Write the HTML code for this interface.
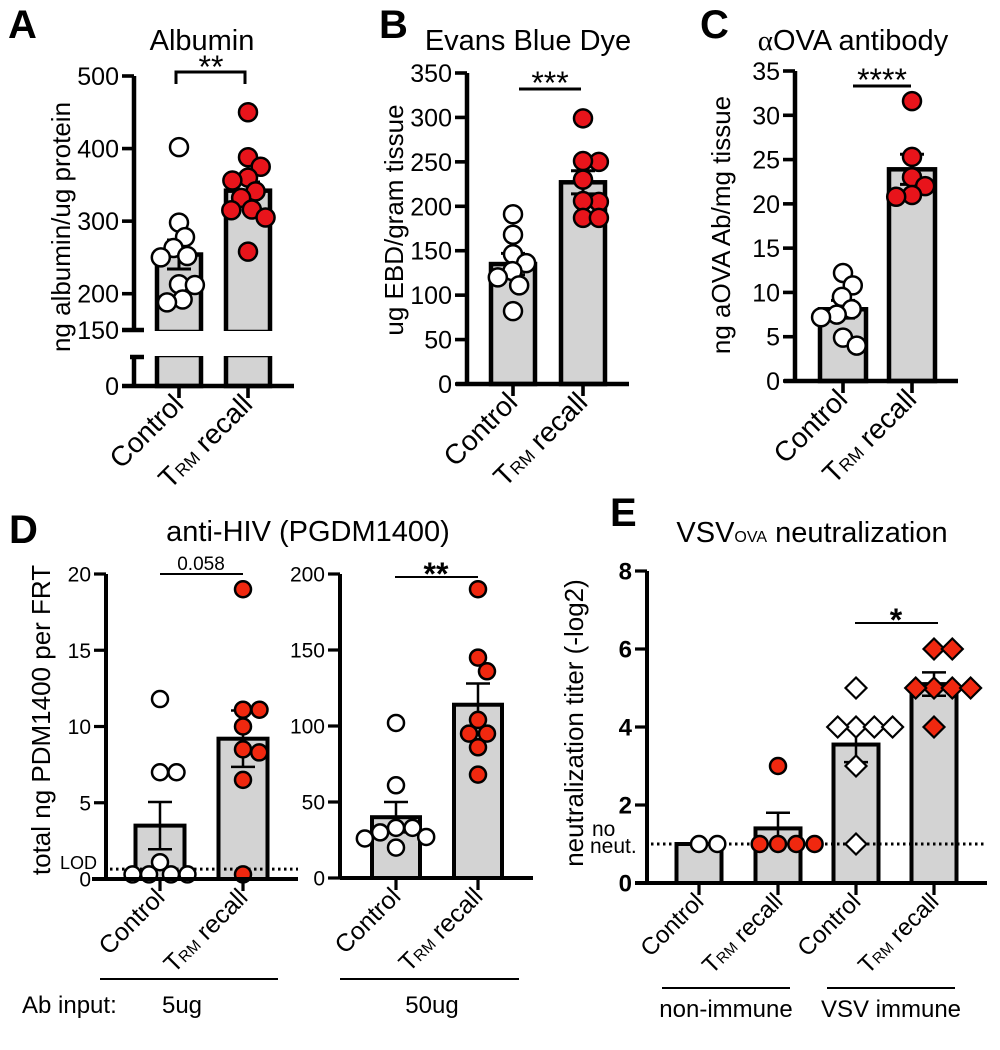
<!DOCTYPE html>
<html><head><meta charset="utf-8"><style>
html,body{margin:0;padding:0;background:#fff;}
svg{display:block;font-family:"Liberation Sans",Arial,sans-serif;}
</style></head><body>
<svg id="fig" width="1000" height="1050" viewBox="0 0 1000 1050" xmlns="http://www.w3.org/2000/svg">
<g font-weight="bold" font-size="40">
<text x="8" y="38">A</text>
<text x="379" y="38">B</text>
<text x="700" y="38">C</text>
<text x="9" y="543">D</text>
<text x="610" y="526">E</text>
</g>
<g font-size="29" text-anchor="middle">
<text x="202" y="50">Albumin</text>
<text x="528" y="50">Evans Blue Dye</text>
<text x="853" y="50"><tspan font-family="'Liberation Serif',serif">α</tspan>OVA antibody</text>
<text x="308" y="541">anti-HIV (PGDM1400)</text>
<text x="812" y="542">VSV<tspan font-size="16">OVA</tspan> neutralization</text>
</g>
<g font-size="26" text-anchor="middle">
<text transform="translate(70,227) rotate(-90)">ng albumin/ug protein</text>
<text transform="translate(403,220) rotate(-90)">ug EBD/gram tissue</text>
<text transform="translate(730,225) rotate(-90)">ng aOVA Ab/mg tissue</text>
<text transform="translate(50,720) rotate(-90)">total ng PDM1400 per FRT</text>
<text transform="translate(583,723) rotate(-90)">neutralization titer (-log2)</text>
</g>
<g text-anchor="middle">
<path d="M176,84 V72 H245 V84" fill="none" stroke="#000" stroke-width="3"/>
<text x="211" y="78" font-size="32">**</text>
<line x1="519" y1="89" x2="581" y2="89" stroke="#000" stroke-width="3"/>
<text x="550" y="94" font-size="32">***</text>
<line x1="853" y1="86" x2="911" y2="86" stroke="#000" stroke-width="3"/>
<text x="882" y="91" font-size="32">****</text>
<line x1="160" y1="574" x2="243" y2="574" stroke="#000" stroke-width="2"/>
<text x="201" y="570" font-size="19">0.058</text>
<line x1="395" y1="577" x2="478" y2="577" stroke="#000" stroke-width="2"/>
<text x="436" y="585" font-size="32" font-weight="bold">**</text>
<line x1="855" y1="623" x2="938" y2="623" stroke="#000" stroke-width="2"/>
<text x="896" y="631" font-size="32" font-weight="bold">*</text>
</g>
<g font-size="24">
<text x="22" y="1013">Ab input:</text>
<line x1="100" y1="979" x2="278" y2="979" stroke="#000" stroke-width="2"/>
<text x="182" y="1013" text-anchor="middle">5ug</text>
<line x1="340" y1="979" x2="519" y2="979" stroke="#000" stroke-width="2"/>
<text x="432" y="1013" text-anchor="middle">50ug</text>
<line x1="662" y1="988" x2="790" y2="988" stroke="#000" stroke-width="2"/>
<text x="726" y="1017" text-anchor="middle">non-immune</text>
<line x1="827" y1="988" x2="955" y2="988" stroke="#000" stroke-width="2"/>
<text x="891" y="1017" text-anchor="middle">VSV immune</text>
</g>
<g>
<text x="97" y="869" font-size="18" text-anchor="end">LOD</text>
<text x="592" y="836" font-size="21">no</text>
<text x="590" y="853" font-size="21">neut.</text>
</g>
</svg>
<script>
// ---- data ----
const catsTwo = ['Control', 'TRM recall'];
const catsE = ['Control', 'TRM recall', 'Control', 'TRM recall'];
// A: albumin
const albTicks = [0, 150, 200, 300, 400, 500];
const albMeans = [254, 342];
const albSems = [20, 12];
const albCtrl = [402, 298, 278, 263, 252, 250, 213, 212, 192, 188];
const albTrm = [450, 388, 375, 360, 356, 341, 332, 316, 315, 305, 258];
// B: Evans blue
const ebdTicks = [0, 50, 100, 150, 200, 250, 300, 350];
const ebdMeans = [135, 227];
const ebdSems = [12, 13];
const ebdCtrl = [191, 168, 146, 136, 127, 120, 111, 82];
const ebdTrm = [299, 250, 251, 230, 205, 206, 187, 187];
// C: aOVA antibody
const ovaTicks = [0, 5, 10, 15, 20, 25, 30, 35];
const ovaMeans = [8.1, 23.9];
const ovaSems = [1.0, 1.7];
const ovaCtrl = [12.2, 10.8, 9.5, 8.1, 7.5, 7.2, 4.9, 4.0];
const ovaTrm = [31.6, 25.3, 23.0, 22.0, 21.0, 20.8];
// D1: 5ug
const d1Ticks = [0, 5, 10, 15, 20];
const d1Means = [3.5, 9.2];
const d1Sems = [1.55, 1.85];
const d1Ctrl = [11.8, 7, 7, 1.1, 0.3, 0.3, 0.3, 0.3];
const d1Trm = [19, 11.1, 11.1, 10, 8.5, 8.3, 6.5, 0.3];
const d1Lod = 0.65;
// D2: 50ug
const d2Ticks = [0, 50, 100, 150, 200];
const d2Means = [40, 114];
const d2Sems = [10, 14];
const d2Ctrl = [102, 61, 33, 33, 30, 27, 26, 20];
const d2Trm = [190, 145, 136, 104, 95, 95, 86, 68];
// E: neutralization
const eTicks = [0, 2, 4, 6, 8];
const eMeans = [1.0, 1.4, 3.55, 5.1];
const eSems = [0, 0.4, 0.45, 0.3];
const eG1 = [1, 1];
const eG2 = [3, 1, 1, 1, 1];
const eG3 = [5, 4, 4, 4, 4, 3, 1];
const eG4 = [6, 6, 5, 5, 5, 5, 4];
const eNoNeut = 1.0;

const NS = 'http://www.w3.org/2000/svg';
const svg = document.getElementById('fig');
function mk(tag, attrs, parent) {
  const e = document.createElementNS(NS, tag);
  for (const k in attrs) e.setAttribute(k, attrs[k]);
  parent.appendChild(e);
  return e;
}
function swarm(vals, ys, r) {
  const idx = vals.map((v, i) => i).sort((a, b) => vals[b] - vals[a]);
  const placed = [];
  const out = new Array(vals.length);
  idx.forEach(i => {
    const y = ys(vals[i]);
    const cands = [0];
    placed.forEach(p => {
      const dy = Math.abs(p.y - y);
      if (dy < 2 * r) { const dx = Math.sqrt(4 * r * r - dy * dy) + 0.3; cands.push(p.x + dx, p.x - dx); }
    });
    cands.sort((a, b) => Math.abs(a) - Math.abs(b) || b - a);
    let best = 0;
    for (const c of cands) {
      if (placed.every(p => (p.x - c) ** 2 + (p.y - y) ** 2 >= 4 * r * r - 0.5)) { best = c; break; }
    }
    placed.push({ x: best, y: y });
    out[i] = { x: best, y: y };
  });
  return out;
}
function xLabel(g, cat, x, y, fs, name) {
  const t = mk('text', { transform: `translate(${x},${y}) rotate(-45)`, 'text-anchor': 'end', 'font-size': fs }, g);
  
  
  if (cat.startsWith('TRM')) {
    const a = mk('tspan', {}, t); a.textContent = 'T';
    const b = mk('tspan', { 'font-size': fs * 0.62 }, t); b.textContent = 'RM';
    const c = mk('tspan', {}, t); c.textContent = ' recall';
  } else t.textContent = cat;
}
function panel(p) {
  const g = mk('g', {}, svg);
  
  
  const ys = p.ys;
  p.means.forEach((m, i) => {
    const cx = p.centers[i];
    if (p.broken) {
      const b1 = mk('rect', { x: cx - p.bw / 2, y: ys(m), width: p.bw, height: p.breakTop - ys(m) + 2, fill: '#d3d3d3', stroke: '#000', 'stroke-width': p.lw }, g);
      
      
      const b2 = mk('rect', { x: cx - p.bw / 2, y: p.breakBot - 2, width: p.bw, height: p.y0 - p.breakBot + 2, fill: '#d3d3d3', stroke: '#000', 'stroke-width': p.lw }, g);
      
      
      const cv = mk('rect', { x: cx - p.bw / 2 - 4, y: p.breakTop + 1, width: p.bw + 8, height: p.breakBot - p.breakTop - 2, fill: '#fff' }, g);
      
      
    } else {
      const b = mk('rect', { x: cx - p.bw / 2, y: ys(m), width: p.bw, height: p.y0 - ys(m), fill: '#d3d3d3', stroke: '#000', 'stroke-width': p.lw }, g);
      
      
    }
  });
  if (p.refVal !== undefined) {
    const l = mk('line', { x1: p.ax + 4, x2: p.xEnd, y1: ys(p.refVal), y2: ys(p.refVal), stroke: '#000', 'stroke-width': 3, 'stroke-dasharray': '2.5 3.5' }, g);
    
    
  }
  p.means.forEach((m, i) => {
    if (!p.sems[i]) return;
    const cx = p.centers[i];
    const e = mk('path', { d: `M${cx},${ys(m - p.sems[i])}V${ys(m + p.sems[i])}M${cx - 12},${ys(m + p.sems[i])}H${cx + 12}M${cx - 12},${ys(m - p.sems[i])}H${cx + 12}`, stroke: '#000', 'stroke-width': p.elw, fill: 'none' }, g);
    
    
  });
  p.points.forEach((vals, i) => {
    const pos = swarm(vals, ys, p.r * p.sp);
    pos.forEach((q, j) => {
      const x = p.centers[i] + q.x, y = q.y;
      let s;
      if (p.shapes[i] === 'd') {
        const r = p.r + 1.5;
        s = mk('path', { d: `M${x},${y - r}L${x + r},${y}L${x},${y + r}L${x - r},${y}Z`, fill: p.fills[i], stroke: '#000', 'stroke-width': 2.2 }, g);
      } else {
        s = mk('circle', { cx: x, cy: y, r: p.r - 1, fill: p.fills[i], stroke: '#000', 'stroke-width': 2.5 }, g);
      }
      
      
    });
  });
  const ya = mk('path', { d: p.broken ? `M${p.ax},${p.yTop}V${p.breakTop}M${p.ax},${p.breakBot}V${p.y0}` : `M${p.ax},${p.yTop}V${p.y0}`, stroke: '#000', 'stroke-width': p.lw, fill: 'none' }, g);
  
  
  if (p.broken) {
    const bk = mk('path', { d: `M${p.ax - 12},${p.breakTop}H${p.ax + 10}M${p.ax - 4},${p.breakBot}H${p.ax + 10}`, stroke: '#000', 'stroke-width': p.lw }, g);
    
    
  }
  const xa = mk('line', { x1: p.xStart, x2: p.xEnd, y1: p.y0, y2: p.y0, stroke: '#000', 'stroke-width': p.lw }, g);
  
  
  p.ticks.forEach(t => {
    const y = ys(t);
    const tk = mk('line', { x1: p.ax - 12, x2: p.ax, y1: y, y2: y, stroke: '#000', 'stroke-width': p.lw * 0.8 }, g);
    
    
    const tl = mk('text', { x: p.ax - 15, y: y + p.tfs * 0.36, 'text-anchor': 'end', 'font-size': p.tfs, 'font-weight': p.tbold ? 'bold' : 'normal' }, g);
    
    
    tl.textContent = t;
  });
  p.cats.forEach((c, i) => {
    const cx = p.centers[i];
    const tk = mk('line', { x1: cx, x2: cx, y1: p.y0, y2: p.y0 + 12, stroke: '#000', 'stroke-width': p.lw * 0.8 }, g);
    
    
    xLabel(g, c, cx + 6, p.y0 + 20, p.xfs, 'x-tick-label-' + i);
  });
}
function lin(y0, yTop, vmax) { return v => y0 - v / vmax * (y0 - yTop); }
const RED = '#e8141b', RED2 = '#f0280f';
panel({ name: 'panel-a-albumin', ax: 134, xStart: 122, xEnd: 294, y0: 386, yTop: 76, broken: true, breakTop: 330, breakBot: 357,
  ys: v => v === 0 ? 386 : 330 - (v - 150) * (254 / 350), ticks: albTicks, centers: [179, 248], bw: 44, lw: 4.5, elw: 3, sp: 0.78,
  means: albMeans, sems: albSems, points: [albCtrl, albTrm], fills: ['#fff', RED], shapes: ['c', 'c'], r: 10, tfs: 25, xfs: 28, cats: catsTwo });
panel({ name: 'panel-b-evans-blue', ax: 467, xStart: 456, xEnd: 629, y0: 384, yTop: 73, ys: lin(384, 73, 350), ticks: ebdTicks, sp: 0.78,
  centers: [513, 583], bw: 44, lw: 4.5, elw: 3, means: ebdMeans, sems: ebdSems, points: [ebdCtrl, ebdTrm], fills: ['#fff', RED], shapes: ['c', 'c'], r: 10, tfs: 25, xfs: 28, cats: catsTwo });
panel({ name: 'panel-c-aova', ax: 795, xStart: 784, xEnd: 958, y0: 381, yTop: 71, ys: lin(381, 71, 35), ticks: ovaTicks, sp: 0.78,
  centers: [843, 912], bw: 46, lw: 4.5, elw: 3, means: ovaMeans, sems: ovaSems, points: [ovaCtrl, ovaTrm], fills: ['#fff', RED], shapes: ['c', 'c'], r: 10, tfs: 25, xfs: 28, cats: catsTwo });
panel({ name: 'panel-d-5ug', ax: 106, xStart: 92, xEnd: 298, y0: 879, yTop: 574, ys: lin(879, 574, 20), ticks: d1Ticks, refVal: d1Lod, sp: 0.9,
  centers: [160, 243], bw: 49, lw: 4, elw: 2.5, means: d1Means, sems: d1Sems, points: [d1Ctrl, d1Trm], fills: ['#fff', RED2], shapes: ['c', 'c'], r: 9, tfs: 21, xfs: 25, cats: catsTwo });
panel({ name: 'panel-d-50ug', ax: 340, xStart: 340, xEnd: 533, y0: 878, yTop: 574, ys: lin(878, 574, 200), ticks: d2Ticks, sp: 0.9,
  centers: [396, 478], bw: 48, lw: 4, elw: 2.5, means: d2Means, sems: d2Sems, points: [d2Ctrl, d2Trm], fills: ['#fff', RED2], shapes: ['c', 'c'], r: 9, tfs: 21, xfs: 25, cats: catsTwo });
panel({ name: 'panel-e-neutralization', ax: 647, xStart: 635, xEnd: 987, y0: 883, yTop: 571, ys: lin(883, 571, 8), ticks: eTicks, refVal: eNoNeut, sp: 1.0,
  centers: [699, 778, 856, 934], bw: 45, lw: 4, elw: 2.5, means: eMeans, sems: eSems, points: [eG1, eG2, eG3, eG4],
  fills: ['#fff', RED2, '#fff', RED2], shapes: ['c', 'c', 'd', 'd'], r: 9, tfs: 24, tbold: true, xfs: 24, cats: catsE });
</script>
</body></html>
